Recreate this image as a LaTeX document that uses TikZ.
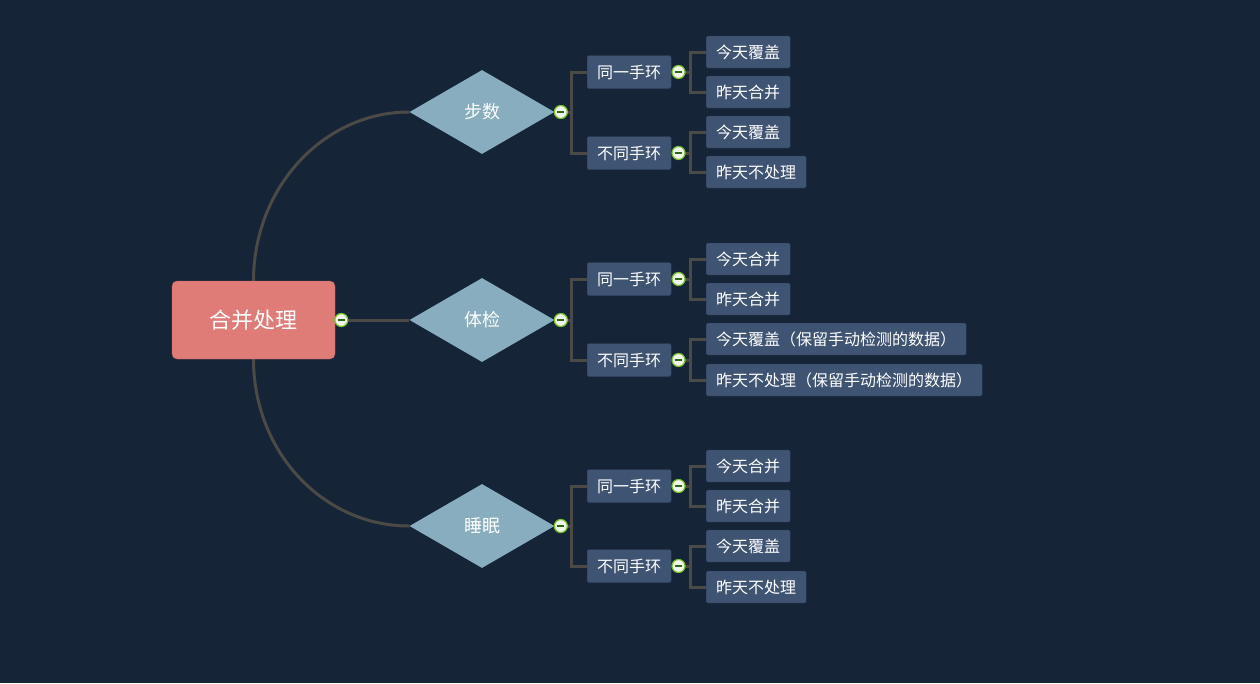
\documentclass[tikz,border=0pt]{standalone}
\usepackage{fontspec}
\newfontfamily\cjk{Noto Sans CJK SC}
\usetikzlibrary{shapes.geometric,positioning,backgrounds}
\definecolor{bgnavy}{RGB}{22,36,56}
\definecolor{rootred}{RGB}{223,124,120}
\definecolor{diamondblue}{RGB}{135,173,191}
\definecolor{boxblue}{RGB}{63,83,115}
\definecolor{boxedge}{RGB}{48,64,92}
\definecolor{linkgray}{RGB}{76,74,70}
\definecolor{foldgreen}{RGB}{118,196,42}
\definecolor{foldfill}{RGB}{240,244,234}
\definecolor{folddash}{RGB}{40,105,20}
\begin{document}
\begin{tikzpicture}[x=1pt,y=-1pt, every node/.style={font=\cjk, text=white}]
        \tikzset{
          rootbox/.style={rectangle, rounded corners=5pt, fill=rootred, draw=rootred!80!black,
            minimum width=163pt, minimum height=78pt, font=\cjk\fontsize{22pt}{24pt}\selectfont},
          topic/.style={diamond, fill=diamondblue, minimum width=145pt, minimum height=84pt,
            inner sep=0pt, font=\cjk\fontsize{18pt}{20pt}\selectfont},
          subbox/.style={rectangle, rounded corners=1.5pt, fill=boxblue, draw=boxedge, anchor=west,
            inner xsep=10pt, minimum height=33pt, font=\cjk\fontsize{16pt}{18pt}\selectfont},
          leafbox/.style={subbox, minimum height=32pt},
          fold/.style={circle, draw=foldgreen, fill=foldfill, line width=1.2pt, minimum size=13pt,
            inner sep=0pt, anchor=west,
            path picture={\draw[line width=1.3pt, folddash]
              ([xshift=-3.6pt]path picture bounding box.center) -- ([xshift=3.6pt]path picture bounding box.center);}},
          link/.style={draw=linkgray, line width=3pt},
        }
        \begin{scope}[on background layer]
        \fill[bgnavy] (0,0) rectangle (1260,683);
        \end{scope}
        \node[rootbox] (root) at (253.5,320) {合并处理};
        \node[fold] (fr) at ([xshift=-1pt]root.east) {};
        % topics
        \node[topic] (steps) at (482,112) {步数};
        \node[topic] (check) at (482,320) {体检};
        \node[topic] (sleep) at (482,526) {睡眠};
        \node[fold] (fsteps) at ([xshift=-1pt]steps.east) {};
        \node[fold] (fcheck) at ([xshift=-1pt]check.east) {};
        \node[fold] (fsleep) at ([xshift=-1pt]sleep.east) {};
        % 
        \node[subbox] (stepsame) at (587,72) {同一手环};
        \node[subbox] (stepdiff) at (587,153) {不同手环};
        \node[subbox] (checksame) at (587,279) {同一手环};
        \node[subbox] (checkdiff) at (587,360) {不同手环};
        \node[subbox] (sleepsame) at (587,486) {同一手环};
        \node[subbox] (sleepdiff) at (587,566) {不同手环};
        \node[fold] (fstepsame) at (stepsame.east) {};
        \node[fold] (fstepdiff) at (stepdiff.east) {};
        \node[fold] (fchecksame) at (checksame.east) {};
        \node[fold] (fcheckdiff) at (checkdiff.east) {};
        \node[fold] (fsleepsame) at (sleepsame.east) {};
        \node[fold] (fsleepdiff) at (sleepdiff.east) {};
        % 
        \node[leafbox] (s1) at (706,52) {今天覆盖};
        \node[leafbox] (s2) at (706,92) {昨天合并};
        \node[leafbox] (s3) at (706,132) {今天覆盖};
        \node[leafbox] (s4) at (706,172) {昨天不处理};
        \node[leafbox] (c1) at (706,259) {今天合并};
        \node[leafbox] (c2) at (706,299) {昨天合并};
        \node[leafbox] (c3) at (706,339) {今天覆盖（保留手动检测的数据）};
        \node[leafbox] (c4) at (706,380) {昨天不处理（保留手动检测的数据）};
        \node[leafbox] (z1) at (706,466) {今天合并};
        \node[leafbox] (z2) at (706,506) {昨天合并};
        \node[leafbox] (z3) at (706,546) {今天覆盖};
        \node[leafbox] (z4) at (706,587) {昨天不处理};
        % 
        \begin{scope}[on background layer]
        \draw[link] (root.north) .. controls +(0,-93) and +(-86,0) .. (steps.west);
        \draw[link] (fr) -- (check.west);
        \draw[link] (root.south) .. controls +(0,93) and +(-86,0) .. (sleep.west);
        \draw[link] (fsteps.center) -- ++(11,0) |- (stepsame.west);
        \draw[link] (fsteps.center) -- ++(11,0) |- (stepdiff.west);
        \draw[link] (fcheck.center) -- ++(11,0) |- (checksame.west);
        \draw[link] (fcheck.center) -- ++(11,0) |- (checkdiff.west);
        \draw[link] (fsleep.center) -- ++(11,0) |- (sleepsame.west);
        \draw[link] (fsleep.center) -- ++(11,0) |- (sleepdiff.west);
        \draw[link] (fstepsame.center) -- ++(12,0) |- (s1.west);
        \draw[link] (fstepsame.center) -- ++(12,0) |- (s2.west);
        \draw[link] (fstepdiff.center) -- ++(12,0) |- (s3.west);
        \draw[link] (fstepdiff.center) -- ++(12,0) |- (s4.west);
        \draw[link] (fchecksame.center) -- ++(12,0) |- (c1.west);
        \draw[link] (fchecksame.center) -- ++(12,0) |- (c2.west);
        \draw[link] (fcheckdiff.center) -- ++(12,0) |- (c3.west);
        \draw[link] (fcheckdiff.center) -- ++(12,0) |- (c4.west);
        \draw[link] (fsleepsame.center) -- ++(12,0) |- (z1.west);
        \draw[link] (fsleepsame.center) -- ++(12,0) |- (z2.west);
        \draw[link] (fsleepdiff.center) -- ++(12,0) |- (z3.west);
        \draw[link] (fsleepdiff.center) -- ++(12,0) |- (z4.west);
        \end{scope}
\end{tikzpicture}
\end{document}
